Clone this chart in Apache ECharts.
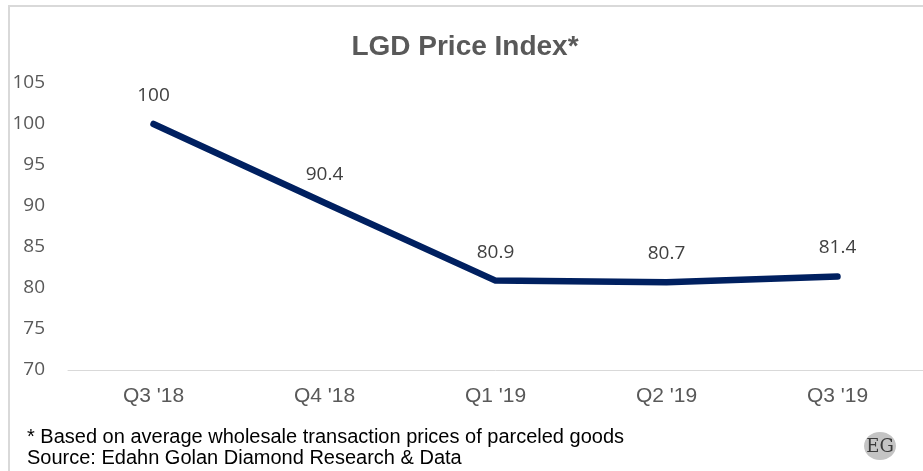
<!DOCTYPE html>
<html><head><meta charset="utf-8">
<script src="https://cdn.jsdelivr.net/npm/echarts@6/dist/echarts.min.js"></script>
<style>html,body{margin:0;padding:0;background:#fff}#c{width:923px;height:471px}</style>
</head><body><div id="c"></div>
<script>
const categories = ["Q3 '18", "Q4 '18", "Q1 '19", "Q2 '19", "Q3 '19"];
const values = [100, 90.4, 80.9, 80.7, 81.4];
const yTicks = { min: 70, max: 105, interval: 5 };
const titleText = "LGD Price Index*";
const footnote = "* Based on average wholesale transaction prices of parceled goods";
const sourceText = "Source: Edahn Golan Diamond Research & Data";

const chart = echarts.init(document.getElementById('c'), null, {renderer: 'canvas'});
chart.setOption({
  animation: false,
  backgroundColor: '#fff',
  title: {
    text: titleText, left: 460, top: 28, textAlign: 'center',
    textStyle: { fontFamily: 'Liberation Sans, Arial', fontWeight: 'bold', fontSize: 28, color: '#595959' }
  },
  grid: { left: 68, right: 0, top: 83, bottom: 101 },
  xAxis: {
    type: 'category', data: categories, boundaryGap: true,
    axisLine: { lineStyle: { color: '#d9d9d9', width: 1 } },
    axisTick: { show: false },
    axisLabel: { color: '#595959', fontSize: 21, fontFamily: 'Liberation Sans, Arial', margin: 16 }
  },
  yAxis: {
    type: 'value', min: yTicks.min, max: yTicks.max, interval: yTicks.interval,
    axisLine: { show: false }, axisTick: { show: false }, splitLine: { show: false },
    axisLabel: { color: '#595959', fontSize: 19, fontFamily: 'Open Sans, Noto Sans, sans-serif', margin: 23 }
  },
  series: [{
    type: 'line', data: values, symbol: 'circle', symbolSize: 4, showSymbol: true,
    itemStyle: { color: '#002060', borderWidth: 0 },
    lineStyle: { color: '#002060', width: 6.5, cap: 'round', join: 'round' },
    label: { show: true, position: 'top', distance: 17, color: '#404040', fontSize: 19,
      fontFamily: 'Open Sans, Noto Sans, sans-serif' },
    labelLayout: { hideOverlap: false }
  }],
  graphic: [
    { type: 'line', shape: { x1: 9, y1: 6, x2: 9, y2: 471 }, style: { stroke: '#d9d9d9', lineWidth: 2 } },
    { type: 'line', shape: { x1: 8, y1: 6, x2: 923, y2: 6 }, style: { stroke: '#d9d9d9', lineWidth: 2 } },
    { type: 'text', left: 27, top: 427, style: { text: footnote, fill: '#000', font: '20px "Liberation Sans", Arial' } },
    { type: 'text', left: 27, top: 448, style: { text: sourceText, fill: '#000', font: '20px "Liberation Sans", Arial' } },
    { type: 'ellipse', shape: { cx: 880, cy: 446, rx: 16, ry: 14 }, style: { fill: '#c4c4c4' } },
    { type: 'text', x: 880, y: 447, style: { text: 'EG', fill: '#3a3a3a', font: '18px "DejaVu Serif", "Liberation Serif", serif', textAlign: 'center', textVerticalAlign: 'middle' } }
  ]
});
</script></body></html>
